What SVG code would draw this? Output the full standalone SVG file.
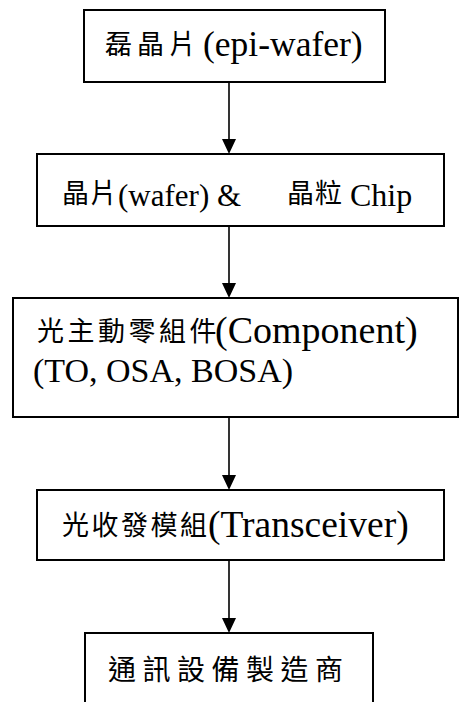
<svg xmlns="http://www.w3.org/2000/svg" width="459" height="702" viewBox="0 0 459 702">
<defs>
<style>
.box{fill:#fff;stroke:#000;stroke-width:2}
.con{stroke:#000;stroke-width:1.6;fill:none}
.head{fill:#000}
.cjk{font-family:"Noto Sans CJK TC","Liberation Serif",sans-serif;fill:#000}
.lat{font-family:"Liberation Serif","Noto Sans CJK TC",serif;fill:#000}
</style>
</defs>
<rect width="459" height="702" fill="#fff"/>
<g id="connectors">
<line class="con" x1="229" y1="82" x2="229" y2="142"/>
<polygon class="head" points="222,139 236,139 229,154"/>
<line class="con" x1="229" y1="226" x2="229" y2="286"/>
<polygon class="head" points="222,283 236,283 229,298"/>
<line class="con" x1="229" y1="417" x2="229" y2="478"/>
<polygon class="head" points="222,475 236,475 229,490"/>
<line class="con" x1="229" y1="560" x2="229" y2="621"/>
<polygon class="head" points="222,618 236,618 229,633"/>
</g>
<g id="n1">
<rect class="box" x="84" y="10" width="301" height="72"/>
<text class="cjk" x="105" y="54" font-size="27" letter-spacing="5">磊晶片</text>
<text class="lat" x="203" y="56" font-size="35.5">(epi-wafer)</text>
</g>
<g id="n2">
<rect class="box" x="37" y="154" width="407" height="72"/>
<text class="cjk" x="62" y="203" font-size="27" letter-spacing="1">晶片</text>
<text class="lat" x="118" y="206" font-size="31">(wafer) &amp;</text>
<text class="cjk" x="287" y="203" font-size="27" letter-spacing="1">晶粒</text>
<text class="lat" x="350" y="206" font-size="32">Chip</text>
</g>
<g id="n3">
<rect class="box" x="13" y="298" width="445" height="119"/>
<text class="cjk" x="37" y="341" font-size="27" letter-spacing="3.5">光主動零組件</text>
<text class="lat" x="215" y="343" font-size="38">(Component)</text>
<text class="lat" x="33" y="382" font-size="34">(TO, OSA, BOSA)</text>
</g>
<g id="n4">
<rect class="box" x="37" y="490" width="407" height="70"/>
<text class="cjk" x="62" y="535" font-size="27" letter-spacing="2.5">光收發模組</text>
<text class="lat" x="208" y="537" font-size="37.5">(Transceiver)</text>
</g>
<g id="n5">
<rect class="box" x="85" y="633" width="288" height="80"/>
<text class="cjk" x="108" y="680" font-size="28" letter-spacing="6.5">通訊設備製造商</text>
</g>
</svg>
